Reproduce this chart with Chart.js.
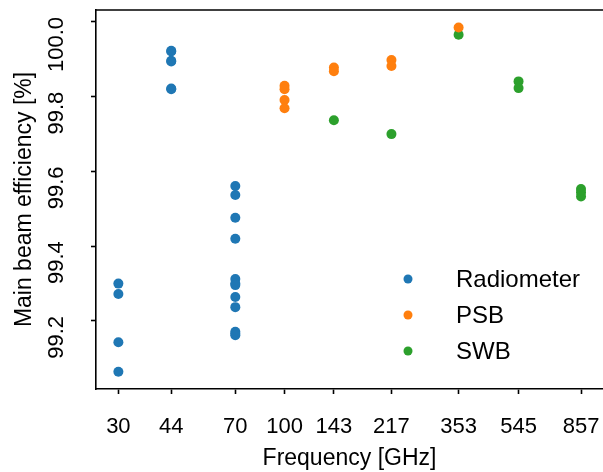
<!DOCTYPE html>
<html>
<head>
<meta charset="utf-8">
<script src="https://cdn.jsdelivr.net/npm/chart.js@4/dist/chart.umd.min.js"></script>
<style>
  html, body { margin: 0; padding: 0; background: #fff; }
  #wrap { width: 603px; height: 472px; }
</style>
</head>
<body>
<div id="wrap"><canvas id="effChart" width="603" height="472"></canvas></div>
<script>
const freqTicks = [30, 44, 70, 100, 143, 217, 353, 545, 857];
const effTicks = [99.2, 99.4, 99.6, 99.8, 100.0];

const radiometerFreq = [30, 30, 30, 30,
    44, 44, 44, 44, 44, 44,
    70, 70, 70, 70, 70, 70, 70, 70, 70, 70, 70, 70];
const radiometerEff = [99.300, 99.272, 99.143, 99.064,
    99.923, 99.921, 99.896, 99.894, 99.822, 99.820,
    99.561, 99.537, 99.476, 99.420, 99.312, 99.300, 99.296, 99.264, 99.237, 99.171, 99.166, 99.162];

const psbFreq = [100, 100, 100, 100, 143, 143, 217, 217, 353];
const psbEff = [99.829, 99.820, 99.791, 99.769, 99.878, 99.868, 99.898, 99.882, 99.985];

const swbFreq = [143, 217, 353, 545, 545, 857, 857, 857];
const swbEff = [99.737, 99.700, 99.966, 99.841, 99.823, 99.553, 99.544, 99.533];

function toPoints(xs, ys) {
    return xs.map((x, i) => ({ x: x, y: ys[i] }));
}

const FONT = '"Liberation Sans", Arial, sans-serif';

// top spine, tick labels (x plain, y rotated) and the legend inside the axes
const framePlugin = {
    id: 'framePlugin',
    afterDraw(chart) {
        const ctx = chart.ctx;
        const area = chart.chartArea;
        const xs = chart.scales.x;
        const ys = chart.scales.y;
        ctx.save();
        ctx.strokeStyle = '#000';
        ctx.lineWidth = 1.6;
        ctx.beginPath();
        ctx.moveTo(area.left - 0.8, area.top);
        ctx.lineTo(area.right, area.top);
        ctx.stroke();

        ctx.fillStyle = '#000';
        ctx.font = '22px ' + FONT;
        ctx.textAlign = 'center';
        ctx.textBaseline = 'alphabetic';
        freqTicks.forEach(v => {
            ctx.fillText(String(v), xs.getPixelForValue(v), 433);
        });

        // rotated labels hang below their tick, like the original
        ctx.textAlign = 'right';
        effTicks.forEach(v => {
            ctx.save();
            ctx.translate(63, ys.getPixelForValue(v) - 5);
            ctx.rotate(-Math.PI / 2);
            ctx.fillText(v.toFixed(1), 0, 0);
            ctx.restore();
        });

        const lx = 408, ly = 279, step = 36;
        ctx.font = '24px ' + FONT;
        ctx.textBaseline = 'middle';
        ctx.textAlign = 'left';
        chart.data.datasets.forEach((ds, i) => {
            ctx.fillStyle = ds.backgroundColor;
            ctx.beginPath();
            ctx.arc(lx, ly + i * step, 4.5, 0, Math.PI * 2);
            ctx.fill();
            ctx.fillStyle = '#000';
            ctx.fillText(ds.label, 456, ly + i * step + 1);
        });
        ctx.restore();
    }
};

const ctx = document.getElementById('effChart').getContext('2d');

new Chart(ctx, {
    type: 'scatter',
    data: {
        datasets: [
            {
                label: 'Radiometer',
                data: toPoints(radiometerFreq, radiometerEff),
                backgroundColor: '#1f77b4',
                borderWidth: 0,
                pointRadius: 5
            },
            {
                label: 'PSB',
                data: toPoints(psbFreq, psbEff),
                backgroundColor: '#ff7f0e',
                borderWidth: 0,
                pointRadius: 5
            },
            {
                label: 'SWB',
                data: toPoints(swbFreq, swbEff),
                backgroundColor: '#2ca02c',
                borderWidth: 0,
                pointRadius: 5
            }
        ]
    },
    options: {
        responsive: false,
        animation: false,
        layout: { autoPadding: false, padding: { top: 10, right: 0, left: 0, bottom: 0 } },
        plugins: {
            legend: { display: false },
            tooltip: { enabled: false }
        },
        scales: {
            x: {
                type: 'logarithmic',
                min: 25.51,
                max: 1005,
                afterBuildTicks: (scale) => {
                    scale.ticks = freqTicks.map(v => ({ value: v }));
                },
                afterFit: (scale) => { scale.height = 83; },
                grid: { display: true, drawOnChartArea: false, tickLength: 5, tickWidth: 1.6, tickColor: '#000' },
                border: { display: true, color: '#000', width: 1.6 },
                ticks: { display: false },
                title: {
                    display: true,
                    text: 'Frequency [GHz]',
                    color: '#000',
                    font: { family: FONT, size: 23 },
                    padding: { top: 0, bottom: 0 }
                }
            },
            y: {
                min: 99.018,
                max: 100.032,
                afterBuildTicks: (scale) => {
                    scale.ticks = effTicks.map(v => ({ value: v }));
                },
                afterFit: (scale) => { scale.width = 96; },
                grid: { display: true, drawOnChartArea: false, tickLength: 5, tickWidth: 1.6, tickColor: '#000' },
                border: { display: true, color: '#000', width: 1.6 },
                ticks: { display: false },
                title: {
                    display: true,
                    text: 'Main beam efficiency [%]',
                    color: '#000',
                    font: { family: FONT, size: 23 },
                    padding: { top: 11, bottom: 0 }
                }
            }
        }
    },
    plugins: [framePlugin]
});
</script>
</body>
</html>
